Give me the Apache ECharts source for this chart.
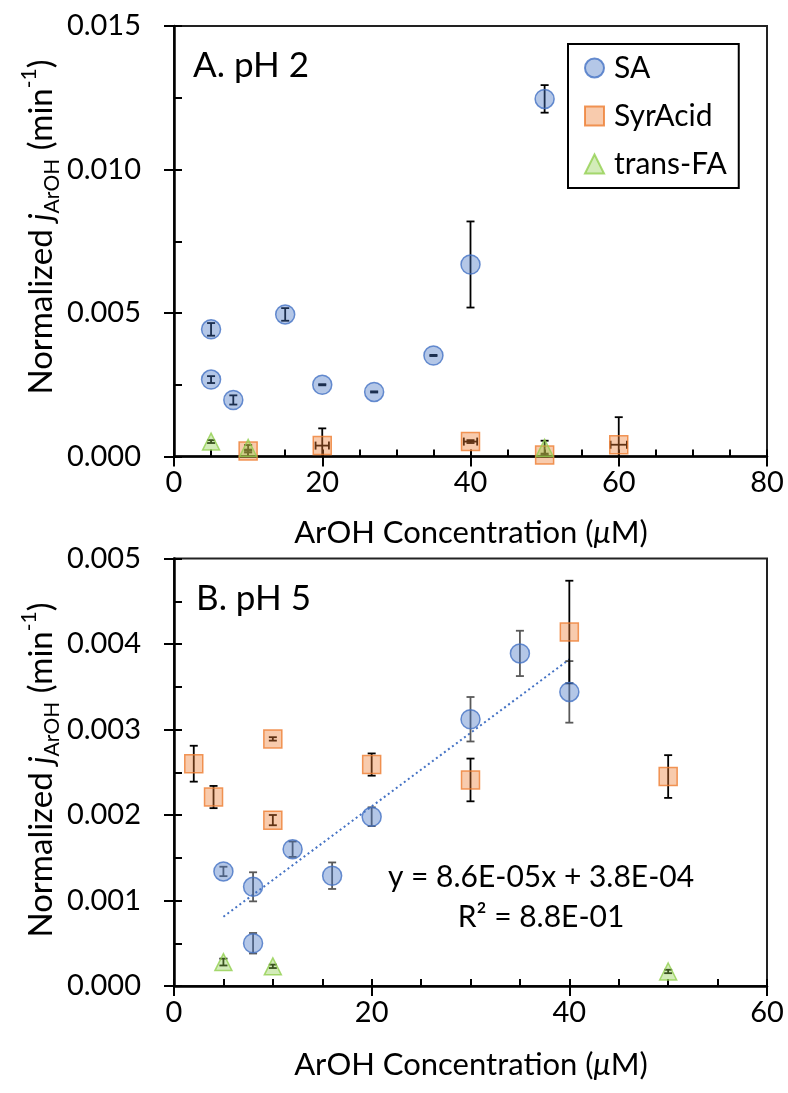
<!DOCTYPE html>
<html>
<head>
<meta charset="utf-8">
<script src="https://cdn.jsdelivr.net/npm/echarts@6/dist/echarts.min.js"></script>
<style>
  html, body { margin: 0; padding: 0; background: #fff; }
  #chart { width: 788px; height: 1093px; }
</style>
</head>
<body>
<div id="chart"></div>
<script>
// ---- Panel A (pH 2) ----
const aSA_x = [5, 5, 8, 15, 20, 27, 35, 40, 50];
const aSA_y = [0.00443, 0.00268, 0.00197, 0.00495, 0.0025, 0.00225, 0.00352, 0.00669, 0.01246];
const aSA_err = [0.00022, 0.00012, 0.00016, 0.00022, 0.00002, 0.00002, 0.00002, 0.0015, 0.00048];

const aSyr_x = [10, 20, 40, 50, 60];
const aSyr_y = [0.00019, 0.00038, 0.00052, 0.00005, 0.00041];
const aSyr_err = [0.00005, 0.0006, 0.00005, 0.00005, 0.00096];
const aSyr_xerr = [0, 0.9, 0.9, 0, 1.1];

const aFA_x = [5, 10, 50];
const aFA_y = [0.00052, 0.0003, 0.0003];
const aFA_err = [0.00005, 0.0001, 0.00025];

// ---- Panel B (pH 5) ----
const bSA_x = [5, 8, 8, 12, 16, 20, 30, 35, 40];
const bSA_y = [0.00134, 0.00116, 0.0005, 0.0016, 0.00129, 0.00198, 0.00312, 0.00389, 0.00344];
const bSA_err = [0.000055, 0.00017, 0.00012, 0.00009, 0.000155, 0.00011, 0.00026, 0.000265, 0.00036];

const bSyr_x = [2, 4, 10, 10, 20, 30, 40, 50];
const bSyr_y = [0.0026, 0.00221, 0.00289, 0.00194, 0.00259, 0.00241, 0.00414, 0.00245];
const bSyr_err = [0.00021, 0.00013, 0.00002, 0.00006, 0.00013, 0.00025, 0.0006, 0.00025];

const bFA_x = [5, 10, 50];
const bFA_y = [0.00028, 0.00023, 0.00017];
const bFA_err = [0.00004, 0.00002, 0.00002];

// Linear trendline of SA at pH 5
const trendSlope = 8.6e-5;
const trendIntercept = 3.8e-4;
const trendRange = [5, 40];
const trendLabel = ['y = 8.6E-05x + 3.8E-04', 'R\u00b2 = 8.8E-01'];

// Axis tick settings
const aXTicks = { min: 0, max: 80, interval: 20 };
const aYTicks = { min: 0, max: 0.015, interval: 0.005 };
const bXTicks = { min: 0, max: 60, interval: 20 };
const bYTicks = { min: 0, max: 0.005, interval: 0.001 };

const FONT = 'Lato';

function pts(xs, ys) { return xs.map((x, i) => [x, ys[i]]); }
function errRows(xs, ys, es, exs) { return xs.map((x, i) => [x, ys[i], es[i], exs ? exs[i] : 0]); }

function errRender(color, yMin) {
  return function (params, api) {
    const x = api.value(0), y = api.value(1), e = api.value(2), ex = api.value(3) || 0;
    const cap = 4;
    const style = { stroke: color, lineWidth: 1.8 };
    const children = [];
    const hi = api.coord([x, y + e]);
    const loVal = Math.max(y - e, yMin);
    const lo = api.coord([x, loVal]);
    children.push({ type: 'line', shape: { x1: hi[0], y1: hi[1], x2: lo[0], y2: lo[1] }, style });
    children.push({ type: 'line', shape: { x1: hi[0] - cap, y1: hi[1], x2: hi[0] + cap, y2: hi[1] }, style });
    if (y - e >= yMin) {
      children.push({ type: 'line', shape: { x1: lo[0] - cap, y1: lo[1], x2: lo[0] + cap, y2: lo[1] }, style });
    }
    if (ex > 0) {
      const l = api.coord([x - ex, y]), r = api.coord([x + ex, y]);
      children.push({ type: 'line', shape: { x1: l[0], y1: l[1], x2: r[0], y2: r[1] }, style });
      children.push({ type: 'line', shape: { x1: l[0], y1: l[1] - cap, x2: l[0], y2: l[1] + cap }, style });
      children.push({ type: 'line', shape: { x1: r[0], y1: r[1] - cap, x2: r[0], y2: r[1] + cap }, style });
    }
    return { type: 'group', children };
  };
}

const markerStyles = {
  SA: { symbol: 'circle', symbolSize: 19, itemStyle: { color: 'rgba(68,114,196,0.5)', borderColor: '#4472C4', borderWidth: 1.5 } },
  SyrAcid: { symbol: 'rect', symbolSize: 18, itemStyle: { color: 'rgba(237,125,49,0.5)', borderColor: '#ED7D31', borderWidth: 1.5 } },
  'trans-FA': { symbol: 'triangle', symbolSize: 17, itemStyle: { color: 'rgba(146,208,80,0.5)', borderColor: '#92D050', borderWidth: 1.5 } }
};

function scatter(name, xi, data) {
  return Object.assign({ type: 'scatter', name, xAxisIndex: xi, yAxisIndex: xi, data, z: 5 }, markerStyles[name]);
}
function errSeries(name, xi, rows, color) {
  return {
    type: 'custom', name: name + ' error', xAxisIndex: xi, yAxisIndex: xi,
    renderItem: errRender(color, 0), data: rows, encode: { x: 0, y: 1 }, z: 3, silent: true
  };
}

function mainX(grid, t) {
  return {
    type: 'value', gridIndex: grid, min: t.min, max: t.max, interval: t.interval, position: 'bottom',
    axisLine: { show: true, onZero: false, lineStyle: { color: '#000', width: 2.5 } },
    axisTick: { show: true, inside: false, length: 10, lineStyle: { color: '#000', width: 2 } },
    axisLabel: { fontFamily: FONT, fontSize: 29, color: '#000', margin: 12 },
    splitLine: { show: false }
  };
}
function innerX(grid, t) {
  return {
    type: 'value', gridIndex: grid, min: t.min, max: t.max, interval: t.interval, position: 'bottom',
    axisLine: { show: false, onZero: false },
    axisTick: { show: true, inside: true, length: 7, lineStyle: { color: '#000', width: 2 } },
    minorTick: { show: true, splitNumber: 4, length: 7, lineStyle: { color: '#000', width: 2 } },
    axisLabel: { show: false }, splitLine: { show: false }
  };
}
function mainY(grid, t) {
  return {
    type: 'value', gridIndex: grid, min: t.min, max: t.max, interval: t.interval, position: 'left',
    axisLine: { show: true, onZero: false, lineStyle: { color: '#000', width: 2.5 } },
    axisTick: { show: true, inside: false, length: 10, lineStyle: { color: '#000', width: 2 } },
    axisLabel: { fontFamily: FONT, fontSize: 29, color: '#000', margin: 33, formatter: v => v.toFixed(3) },
    splitLine: { show: false }
  };
}
function innerY(grid, t) {
  return {
    type: 'value', gridIndex: grid, min: t.min, max: t.max, interval: t.interval, position: 'left',
    axisLine: { show: false, onZero: false },
    axisTick: { show: true, inside: true, length: 8, lineStyle: { color: '#000', width: 2 } },
    minorTick: { show: true, splitNumber: 2, length: 8, lineStyle: { color: '#000', width: 2 } },
    axisLabel: { show: false }, splitLine: { show: false }
  };
}

const yTitleRich = {
  a: { fontFamily: FONT, fontSize: 33, color: '#000', lineHeight: 44 },
  i: { fontFamily: FONT, fontSize: 33, color: '#000', fontStyle: 'italic', lineHeight: 44 },
  s: { fontFamily: FONT, fontSize: 21, color: '#000', lineHeight: 21, verticalAlign: 'bottom' },
  p: { fontFamily: FONT, fontSize: 21, color: '#000', lineHeight: 21, verticalAlign: 'top' }
};
const yTitleText = '{a|Normalized }{i|j}{s|ArOH}{a| (min}{p|-1}{a|)}';
const xTitleRich = {
  a: { fontFamily: FONT, fontSize: 31, color: '#000' },
  i: { fontFamily: FONT, fontSize: 31, color: '#000', fontStyle: 'italic' }
};
const xTitleText = '{a|ArOH Concentration (}{i|\u03bc}{a|M)}';

const trendData = trendRange.map(x => [x, trendSlope * x + trendIntercept]);

const option = {
  animation: false,
  backgroundColor: '#fff',
  grid: [
    { left: 174, top: 26, width: 593, height: 430.5, show: true, borderColor: '#222', borderWidth: 2, backgroundColor: 'transparent' },
    { left: 174, top: 558.5, width: 593, height: 427.5, show: true, borderColor: '#222', borderWidth: 2, backgroundColor: 'transparent' }
  ],
  xAxis: [mainX(0, aXTicks), innerX(0, aXTicks), mainX(1, bXTicks), innerX(1, bXTicks)],
  yAxis: [mainY(0, aYTicks), innerY(0, aYTicks), mainY(1, bYTicks), innerY(1, bYTicks)],
  legend: {
    data: ['SA', 'SyrAcid', 'trans-FA'],
    orient: 'vertical', left: 568, top: 44,
    backgroundColor: '#fff', borderColor: '#000', borderWidth: 2,
    padding: [9, 12, 9, 16], itemWidth: 19, itemHeight: 19, itemGap: 18,
    textStyle: { fontFamily: FONT, fontSize: 30, color: '#000', lineHeight: 30, padding: [0, 0, 0, 5] }
  },
  series: [
    errSeries('SA', 0, errRows(aSA_x, aSA_y, aSA_err), '#000'),
    errSeries('SyrAcid', 0, errRows(aSyr_x, aSyr_y, aSyr_err, aSyr_xerr), '#000'),
    errSeries('trans-FA', 0, errRows(aFA_x, aFA_y, aFA_err), '#000'),
    scatter('SA', 0, pts(aSA_x, aSA_y)),
    scatter('SyrAcid', 0, pts(aSyr_x, aSyr_y)),
    scatter('trans-FA', 0, pts(aFA_x, aFA_y)),

    {
      type: 'line', name: 'SA trend', xAxisIndex: 2, yAxisIndex: 2, data: trendData,
      symbol: 'none', z: 2, silent: true,
      lineStyle: { color: '#4472C4', width: 2, type: [2, 3] }
    },
    errSeries('SA', 2, errRows(bSA_x, bSA_y, bSA_err), '#595959'),
    errSeries('SyrAcid', 2, errRows(bSyr_x, bSyr_y, bSyr_err), '#000'),
    errSeries('trans-FA', 2, errRows(bFA_x, bFA_y, bFA_err), '#000'),
    scatter('SA', 2, pts(bSA_x, bSA_y)),
    scatter('SyrAcid', 2, pts(bSyr_x, bSyr_y)),
    scatter('trans-FA', 2, pts(bFA_x, bFA_y))
  ],
  graphic: [
    { type: 'text', left: 193, top: 48, style: { text: 'A. pH 2', fontFamily: FONT, fontSize: 35, fill: '#000' } },
    { type: 'text', left: 196, top: 581, style: { text: 'B. pH 5', fontFamily: FONT, fontSize: 35, fill: '#000' } },
    { type: 'text', x: 541, y: 877, style: { text: trendLabel[0], fontFamily: FONT, fontSize: 30, fill: '#000', align: 'center', verticalAlign: 'middle' } },
    { type: 'text', x: 541, y: 917, style: { text: trendLabel[1], fontFamily: FONT, fontSize: 30, fill: '#000', align: 'center', verticalAlign: 'middle' } },
    { type: 'text', x: 471, y: 533, style: { text: xTitleText, rich: xTitleRich, align: 'center', verticalAlign: 'middle' } },
    { type: 'text', x: 471, y: 1065, style: { text: xTitleText, rich: xTitleRich, align: 'center', verticalAlign: 'middle' } },
    { type: 'text', x: 41, y: 227, rotation: Math.PI / 2, style: { text: yTitleText, rich: yTitleRich, align: 'center', verticalAlign: 'middle' } },
    { type: 'text', x: 41, y: 770, rotation: Math.PI / 2, style: { text: yTitleText, rich: yTitleRich, align: 'center', verticalAlign: 'middle' } }
  ]
};

const chart = echarts.init(document.getElementById('chart'), null, { renderer: 'canvas' });
chart.setOption(option);
</script>
</body>
</html>
